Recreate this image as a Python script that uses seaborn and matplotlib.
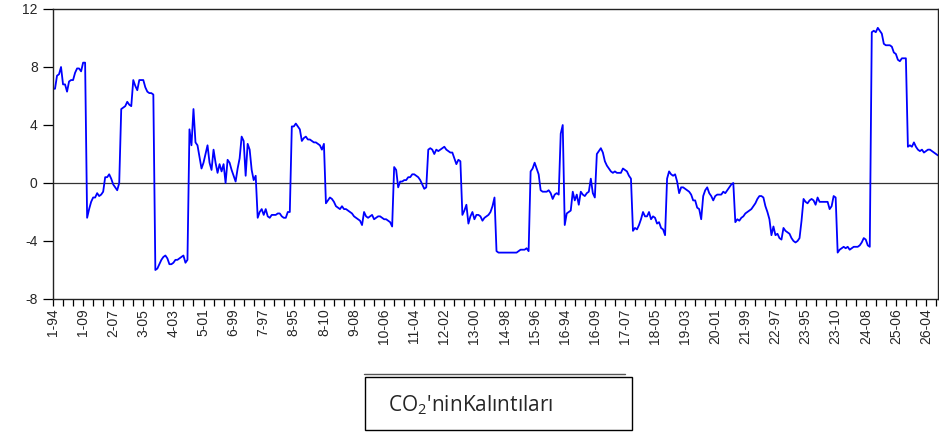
import numpy as np
import pandas as pd
import matplotlib
matplotlib.use('Agg')
import matplotlib.pyplot as plt
import seaborn as sns
from matplotlib.ticker import MultipleLocator
from matplotlib.patches import Rectangle
from matplotlib.lines import Line2D

# Residuals, 26 units x 17 years
u1 = [6.5, 6.5, 7.4, 7.5, 8.0, 6.8, 6.8, 6.3, 7.0, 7.1, 7.1, 7.6, 7.9, 7.9, 7.7, 8.3, 8.3]
u2 = [-2.4, -1.8, -1.3, -1.0, -1.0, -0.7, -0.9, -0.8, -0.6, 0.4, 0.4, 0.6, 0.3, -0.1, -0.3, -0.5, 0.0]
u3 = [5.1, 5.2, 5.3, 5.6, 5.4, 5.3, 7.1, 6.7, 6.4, 7.1, 7.1, 7.1, 6.6, 6.3, 6.2, 6.2, 6.1]
u4 = [-6.0, -5.9, -5.6, -5.3, -5.1, -5.0, -5.2, -5.6, -5.6, -5.5, -5.3, -5.3, -5.2, -5.1, -5.0, -5.5, -5.3]
u5 = [3.7, 2.6, 5.1, 2.8, 2.6, 1.8, 1.0, 1.4, 2.0, 2.6, 1.4, 0.9, 2.3, 1.4, 0.7, 1.3, 0.8]
u6 = [1.3, 0.0, 1.6, 1.4, 0.9, 0.5, 0.1, 1.0, 1.7, 3.2, 2.9, 0.5, 2.7, 2.3, 0.9, 0.2, 0.5]
u7 = [-2.4, -2.0, -1.8, -2.2, -1.8, -2.3, -2.4, -2.2, -2.2, -2.2, -2.1, -2.1, -2.3, -2.4, -2.4, -2.0, -2.0]
u8 = [3.9, 3.9, 4.1, 3.9, 3.7, 2.9, 3.1, 3.2, 3.0, 3.0, 2.9, 2.8, 2.8, 2.7, 2.6, 2.3, 2.7]
u9 = [-1.4, -1.2, -1.0, -1.1, -1.3, -1.6, -1.7, -1.8, -1.6, -1.8, -1.8, -1.9, -2.0, -2.1, -2.3, -2.4, -2.5]
u10 = [-2.6, -2.9, -2.0, -2.3, -2.4, -2.3, -2.2, -2.5, -2.4, -2.3, -2.3, -2.4, -2.5, -2.5, -2.6, -2.7, -3.0]
u11 = [1.1, 0.9, -0.3, 0.1, 0.1, 0.2, 0.2, 0.4, 0.4, 0.6, 0.6, 0.5, 0.4, 0.2, -0.1, -0.4, -0.3]
u12 = [2.3, 2.4, 2.3, 2.0, 2.3, 2.2, 2.3, 2.4, 2.5, 2.3, 2.2, 2.1, 2.1, 1.7, 1.3, 1.6, 1.5]
u13 = [-2.2, -1.9, -1.5, -2.8, -2.3, -2.0, -2.5, -2.2, -2.2, -2.3, -2.6, -2.4, -2.3, -2.2, -2.0, -1.6, -1.0]
u14 = [-4.7, -4.8, -4.8, -4.8, -4.8, -4.8, -4.8, -4.8, -4.8, -4.8, -4.8, -4.7, -4.6, -4.6, -4.6, -4.5, -4.7]
u15 = [0.8, 1.0, 1.4, 1.0, 0.6, -0.5, -0.6, -0.6, -0.6, -0.5, -0.7, -1.1, -0.8, -0.7, -0.8, 3.4, 4.0]
u16 = [-2.9, -2.1, -2.0, -1.9, -0.6, -1.2, -0.8, -1.5, -0.6, -0.8, -0.9, -0.7, -0.6, 0.3, -0.7, -1.0, 2.0]
u17 = [2.2, 2.4, 2.1, 1.5, 1.2, 1.0, 0.8, 0.7, 0.8, 0.7, 0.7, 0.7, 1.0, 0.9, 0.8, 0.5, 0.3]
u18 = [-3.3, -3.1, -3.2, -2.9, -2.5, -2.0, -2.3, -2.3, -2.0, -2.5, -2.3, -2.4, -2.8, -2.7, -3.1, -3.2, -3.6]
u19 = [0.3, 0.8, 0.6, 0.5, 0.6, 0.1, -0.7, -0.3, -0.3, -0.4, -0.5, -0.6, -0.8, -1.2, -1.2, -1.7, -1.8]
u20 = [-2.5, -0.9, -0.5, -0.3, -0.7, -0.9, -1.2, -0.9, -0.8, -0.8, -0.8, -0.6, -0.7, -0.5, -0.3, -0.1, 0.0]
u21 = [-2.7, -2.5, -2.6, -2.4, -2.3, -2.1, -2.0, -1.9, -1.8, -1.6, -1.4, -1.1, -0.9, -0.9, -1.0, -1.6, -2.0]
u22 = [-2.5, -3.6, -3.0, -3.6, -3.5, -3.8, -3.9, -3.1, -3.3, -3.4, -3.5, -3.8, -4.0, -4.1, -4.0, -3.8, -2.6]
u23 = [-1.1, -1.3, -1.4, -1.2, -1.1, -1.2, -1.5, -1.0, -1.3, -1.3, -1.3, -1.3, -1.3, -1.8, -1.6, -0.9, -1.0]
u24 = [-4.8, -4.6, -4.5, -4.4, -4.5, -4.4, -4.6, -4.5, -4.4, -4.4, -4.4, -4.3, -4.1, -3.8, -3.9, -4.3, -4.4]
u25 = [10.4, 10.5, 10.4, 10.7, 10.5, 10.3, 9.6, 9.5, 9.5, 9.5, 9.4, 9.0, 8.9, 8.5, 8.4, 8.6, 8.6]
u26 = [8.6, 2.5, 2.6, 2.5, 2.8, 2.5, 2.3, 2.2, 2.3, 2.1, 2.2, 2.3, 2.3, 2.2, 2.1, 2.0, 1.9]

UNITS = [u1, u2, u3, u4, u5, u6, u7, u8, u9, u10, u11, u12, u13,
         u14, u15, u16, u17, u18, u19, u20, u21, u22, u23, u24, u25, u26]

TICK_LABELS = ['1-94', '1-09', '2-07', '3-05', '4-03', '5-01', '6-99', '7-97',
               '8-95', '8-10', '9-08', '10-06', '11-04', '12-02', '13-00',
               '14-98', '15-96', '16-94', '16-09', '17-07', '18-05', '19-03',
               '20-01', '21-99', '22-97', '23-95', '23-10', '24-08', '25-06',
               '26-04']
Y_TICKS = [-8, -4, 0, 4, 8, 12]

resid = [v for u in UNITS for v in u]
df = pd.DataFrame({'obs': np.arange(len(resid)), 'resid': resid})

sns.set_style('ticks')
plt.rcParams['font.family'] = ['Liberation Sans', 'DejaVu Sans']
plt.rcParams['mathtext.fontset'] = 'custom'
plt.rcParams['mathtext.rm'] = 'Open Sans'
plt.rcParams['mathtext.it'] = 'Open Sans'

fig = plt.figure(figsize=(9.39, 4.32), dpi=100)
ax = fig.add_axes([53 / 939, 1 - 299 / 432, 885 / 939, 290 / 432])

sns.lineplot(df, x='obs', y='resid', color='#0000ff', lw=1.3, ax=ax)
ax.axhline(0, color='#333333', lw=0.9, zorder=1)

ax.set_xlim(0, len(resid) - 1)
ax.set_ylim(-8, 12)
ax.set_yticks(Y_TICKS)
ax.set_yticklabels([str(t) for t in Y_TICKS], fontsize=10)
ax.set_xticks(np.arange(0, len(resid), 15))
ax.set_xticklabels(TICK_LABELS, rotation=90, fontsize=10, va='top')
ax.xaxis.set_minor_locator(MultipleLocator(5))
ax.tick_params(axis='both', which='both', direction='out', length=5,
               width=0.9, color='black', pad=2)
ax.tick_params(axis='y', length=7, pad=4)
ax.set_xlabel(None)
ax.set_ylabel(None)
for s in ax.spines.values():
    s.set_color('#222222')
    s.set_linewidth(1.0)

# legend-like box under the chart
fig.add_artist(Line2D([364 / 939, 625 / 939], [1 - 374 / 432, 1 - 374 / 432],
                      color='#555555', lw=1.0))
fig.add_artist(Rectangle((365 / 939, 1 - 430 / 432), 267 / 939, 53 / 432,
                         fill=False, edgecolor='black', lw=1.0))
fig.text(388 / 939, 1 - 405 / 432, "CO$_2$'ninKalıntıları",
         family=['Open Sans', 'DejaVu Sans'], fontsize=15, ha='left', va='center')

plt.savefig('out.png', dpi=100)
